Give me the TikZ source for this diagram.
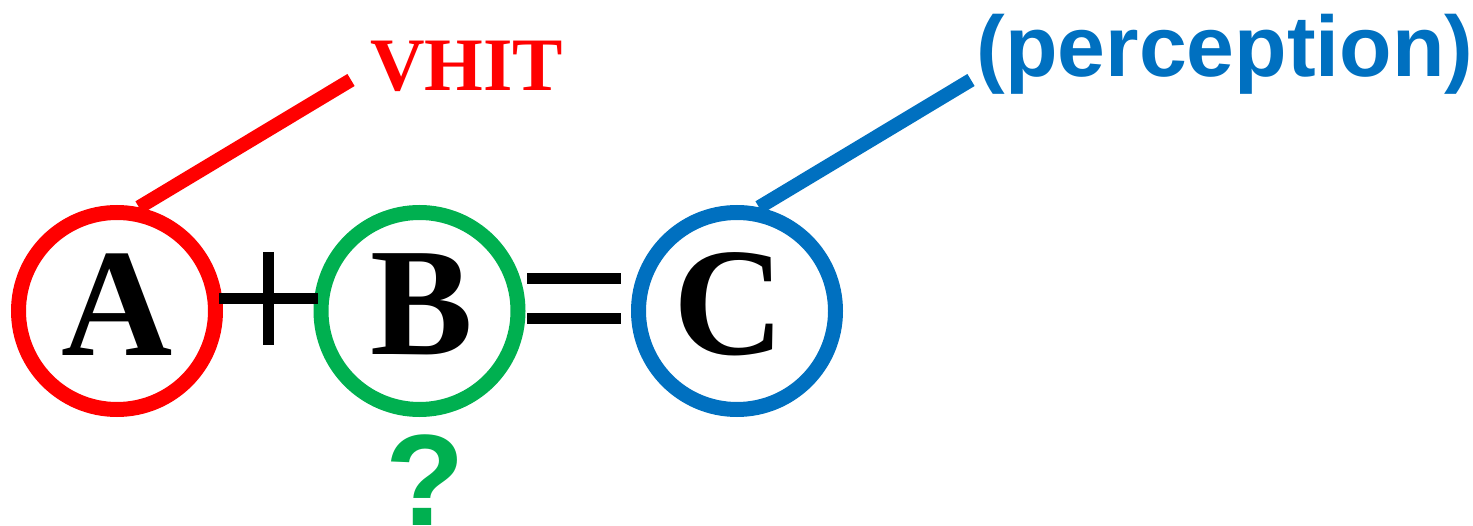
\documentclass[tikz,border=0pt]{standalone}
\usepackage{fontspec}
\setmainfont{Liberation Serif}
\newfontfamily\arialf{Liberation Sans}
\definecolor{cred}{HTML}{FF0000}
\definecolor{cgreen}{HTML}{00B050}
\definecolor{cblue}{HTML}{0070C0}
\begin{document}
\begin{tikzpicture}[x=1pt,y=1pt,
  ring/.style={circle,draw=#1,line width=15pt,minimum size=197pt,inner sep=0pt,fill=white},
  letter/.style={anchor=base,inner sep=0pt,font=\fontsize{154}{154}\selectfont\bfseries},
  bar/.style={line width=10.5pt,black},
  callout/.style={line width=14pt,draw=#1}]
\useasboundingbox (0,0) rectangle (1473,525);
% circles
\node[ring=cred] (A) at (117,214) {};
\node[ring=cgreen] (B) at (419.5,214) {};
\node[ring=cblue] (C) at (737,214) {};
% letters
\node[letter] (la) at ([yshift=-45pt]A.center) {A};
\node[letter] (lb) at ([xshift=2pt,yshift=-44pt]B.center) {B};
\node[letter] (lc) at ([xshift=-8pt,yshift=-44pt]C.center) {C};
% plus
\coordinate (plus) at (268.5,226.5);
\draw[bar,shorten <=-4pt,shorten >=-4pt] (A.east |- plus) -- (B.west |- plus);
\draw[bar] ([yshift=46.5pt]plus) -- ([yshift=-46.5pt]plus);
% equals
\coordinate (eq) at (574,226.5);
\draw[bar] ([xshift=-47pt,yshift=20pt]eq) -- ([xshift=47pt,yshift=20pt]eq);
\draw[bar] ([xshift=-47pt,yshift=-20pt]eq) -- ([xshift=47pt,yshift=-20pt]eq);
% callouts
\coordinate (vend) at (351,445);
\coordinate (pend) at (971,445);
\draw[callout=cred] (A.78) -- (vend);
\draw[callout=cblue] (C.78) -- (pend);
\node[anchor=base west,inner sep=0pt,text=cred,font=\fontsize{75.5}{75.5}\selectfont\bfseries] (vhit) at (370,434) {VHIT};
\node[anchor=base,inner sep=0pt,text=cblue,font=\arialf\fontsize{86}{86}\selectfont\bfseries] (perc) at (1225,448) {(perception)};
\node[anchor=base,inner sep=0pt,text=cgreen,font=\arialf\fontsize{130}{130}\selectfont\bfseries] (q) at (425,0) {?};
\end{tikzpicture}
\end{document}
